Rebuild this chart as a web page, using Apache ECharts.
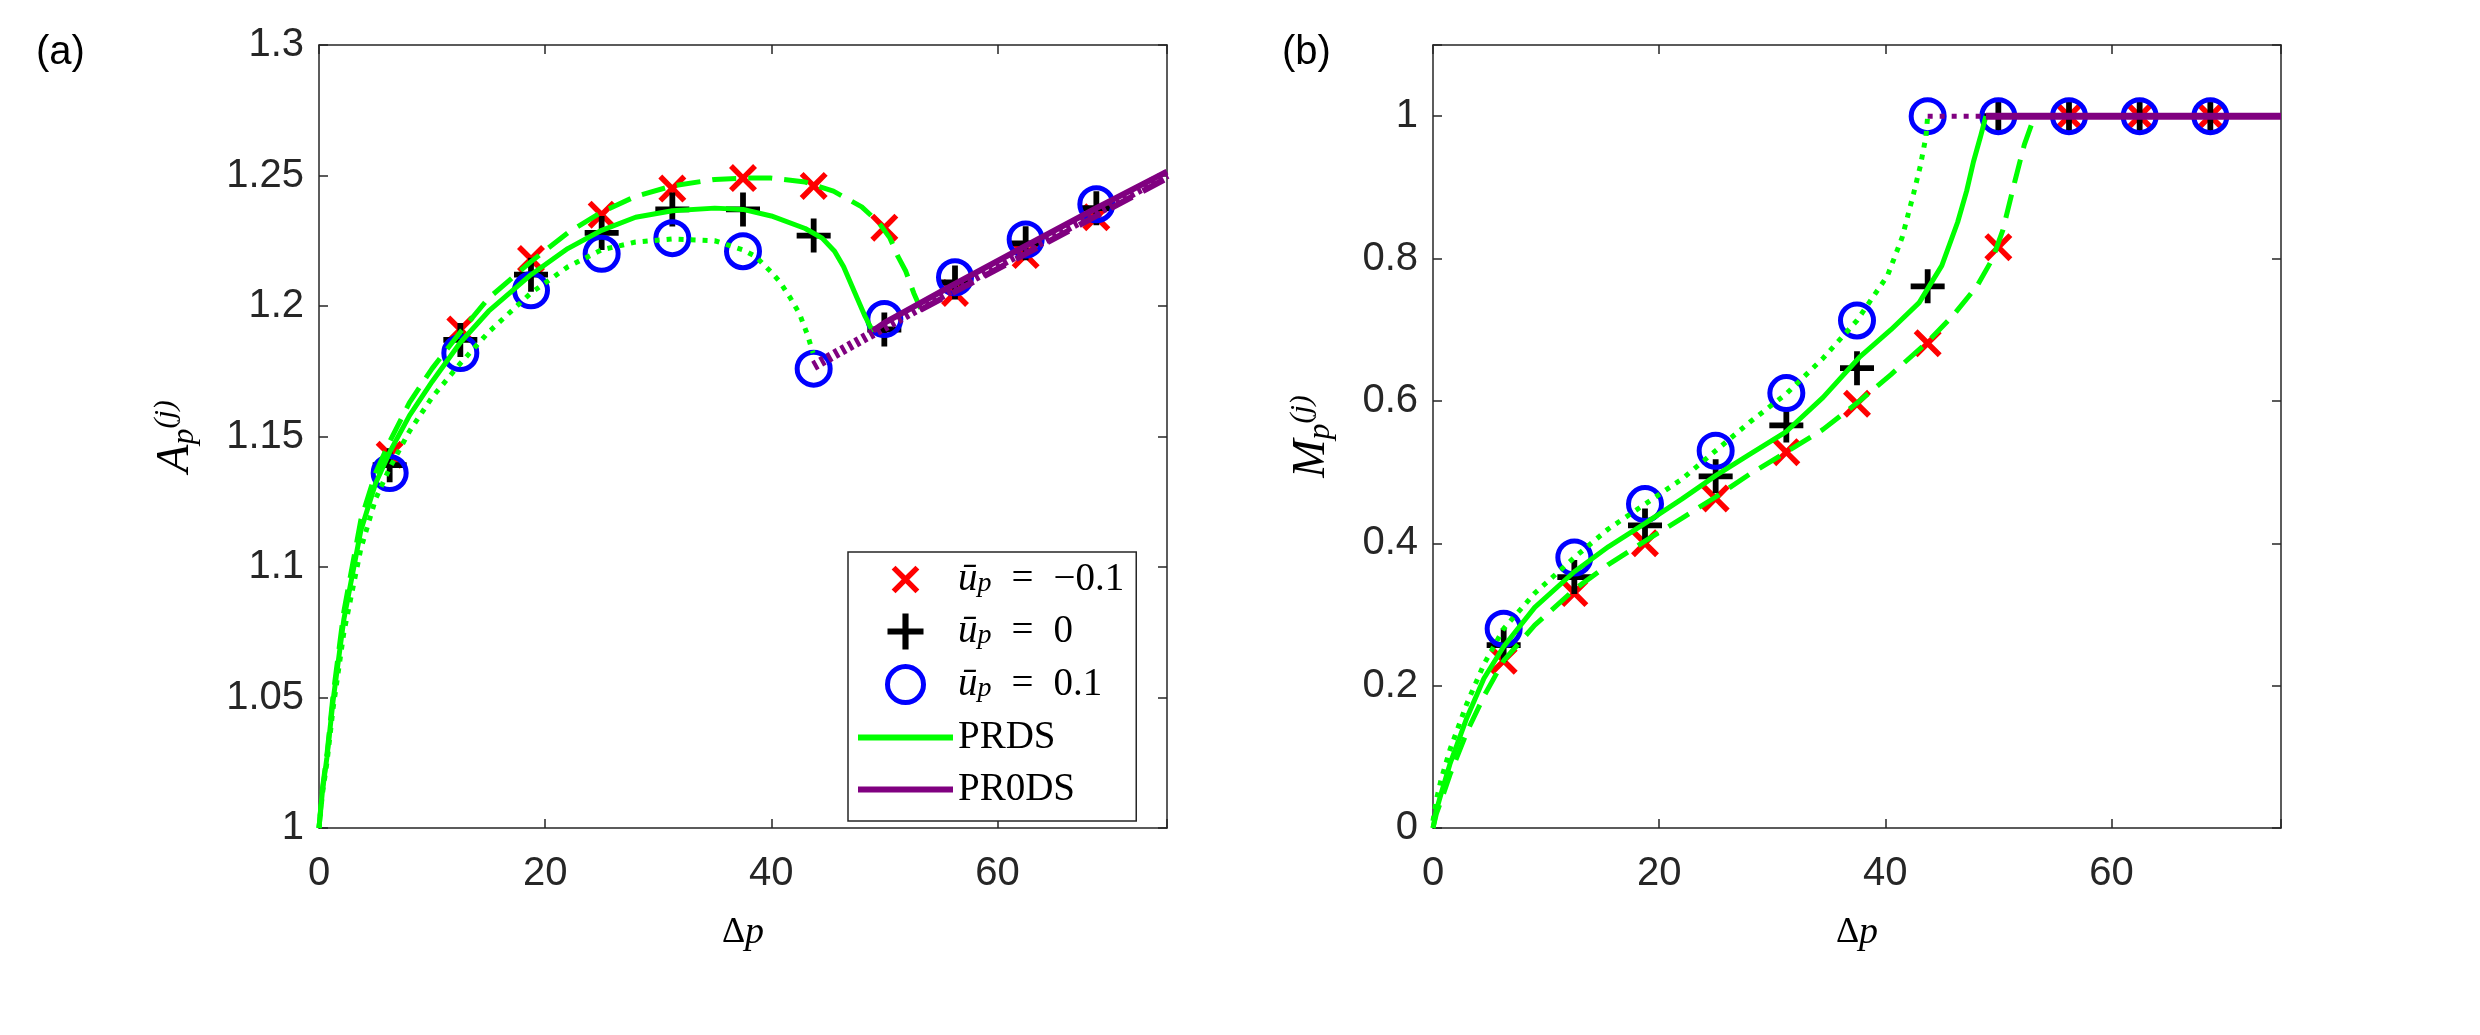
<!DOCTYPE html>
<html>
<head>
<meta charset="utf-8">
<script src="https://cdn.jsdelivr.net/npm/echarts@6.0.0/dist/echarts.min.js"></script>
<style>
  html, body { margin: 0; padding: 0; background: #fff; }
  #chart { width: 2480px; height: 1035px; }
</style>
</head>
<body>
<div id="chart"></div>
<script>
// marker positions (Delta p) shared by both panels
const dp = [6.25, 12.5, 18.75, 25, 31.25, 37.5, 43.75, 50, 56.25, 62.5, 68.75];

// panel (a): A_p markers
const aMinus = [1.143, 1.191, 1.218, 1.235, 1.245, 1.249, 1.246, 1.230, 1.205, 1.2195, 1.234];
const aZero  = [1.139, 1.187, 1.212, 1.228, 1.237, 1.237, 1.227, 1.191, 1.209, 1.224, 1.2375];
const aPlus  = [1.136, 1.182, 1.206, 1.220, 1.226, 1.221, 1.176, 1.195, 1.211, 1.2255, 1.239];

// panel (a): curves [dp, A]
const aPrdsZero = [[0, 1.0], [0.3, 1.014], [0.7, 1.027], [1.25, 1.049], [2.2, 1.08], [3.7, 1.114],
  [5, 1.132], [6.25, 1.144], [8, 1.158], [10, 1.171], [12.5, 1.186], [15, 1.198], [18.75, 1.212],
  [22, 1.222], [25, 1.229], [28, 1.234], [31.25, 1.2365], [35, 1.2375], [37.5, 1.237], [40, 1.2345],
  [43, 1.2297], [44.5, 1.226], [45.6, 1.221], [46.4, 1.215], [47.4, 1.205], [48.3, 1.196], [49, 1.19]];
const aPrdsMinus = [[0, 1.0], [0.3, 1.015], [0.7, 1.028], [1.25, 1.051], [2.2, 1.083], [3.7, 1.118],
  [5, 1.136], [6.25, 1.148], [8, 1.163], [10, 1.176], [12.5, 1.19], [15, 1.203], [18.75, 1.217],
  [22, 1.228], [25, 1.236], [28, 1.242], [31.25, 1.246], [35, 1.2485], [37.5, 1.249], [40, 1.249],
  [43, 1.2475], [45.5, 1.244], [48, 1.238], [49.5, 1.232], [50.5, 1.226], [51.2, 1.219],
  [51.9, 1.2133], [52.6, 1.205], [53.2, 1.199]];
const aPrdsPlus = [[0, 1.0], [0.3, 1.013], [0.7, 1.025], [1.25, 1.046], [2.2, 1.075], [3.7, 1.107],
  [5, 1.126], [6.25, 1.138], [8, 1.152], [10, 1.165], [12.5, 1.178], [15, 1.19], [18.75, 1.205],
  [22, 1.215], [25, 1.2215], [28, 1.2245], [31.25, 1.2257], [35, 1.225], [37.5, 1.2215], [38.6, 1.219],
  [40, 1.213], [40.8, 1.209], [41.7, 1.203], [42.5, 1.197], [43.2, 1.189], [43.7, 1.182]];
const aPr0dsPlus  = [[43.75, 1.177], [50, 1.192], [56.25, 1.207], [62.5, 1.2215], [68.75, 1.236], [75, 1.2505]];
const aPr0dsZero  = [[49, 1.1905], [50, 1.1935], [56.25, 1.2085], [62.5, 1.223], [68.75, 1.2375], [75, 1.2515]];
const aPr0dsMinus = [[53.2, 1.1985], [56.25, 1.2055], [62.5, 1.22], [68.75, 1.2345], [75, 1.249]];

// panel (b): M_p markers
const bMinus = [0.235, 0.330, 0.400, 0.463, 0.528, 0.596, 0.681, 0.816, 1, 1, 1];
const bZero  = [0.257, 0.3525, 0.425, 0.494, 0.5655, 0.646, 0.761, 1, 1, 1, 1];
const bPlus  = [0.280, 0.380, 0.455, 0.530, 0.611, 0.713, 1, 1, 1, 1, 1];

// panel (b): curves [dp, M]
const bPrdsZero = [[0, 0], [0.3, 0.025], [0.75, 0.05], [1.5, 0.09], [3, 0.155], [4.5, 0.21], [6.25, 0.255],
  [9, 0.31], [12.5, 0.36], [15.5, 0.395], [18.75, 0.428], [22, 0.462], [25, 0.495], [28, 0.525],
  [31.25, 0.557], [34.5, 0.605], [37.7, 0.661], [40.5, 0.70], [43, 0.738], [45, 0.79], [46.4, 0.851],
  [47.2, 0.895], [47.8, 0.936], [48.4, 0.97], [48.9, 1.0]];
const bPrdsMinus = [[0, 0], [0.3, 0.02], [0.75, 0.04], [1.5, 0.075], [3, 0.135], [4.5, 0.185], [6.25, 0.235],
  [9, 0.285], [12.5, 0.335], [15.5, 0.37], [18.75, 0.403], [22, 0.435], [25, 0.465], [28, 0.497],
  [31.25, 0.528], [34.5, 0.56], [37.5, 0.597], [40.5, 0.637], [43.75, 0.683], [46, 0.72], [48.1, 0.761],
  [49.5, 0.8], [50.4, 0.84], [51.5, 0.911], [52.3, 0.96], [53.2, 1.0]];
const bPrdsPlus = [[0, 0.01], [0.3, 0.04], [0.75, 0.07], [1.5, 0.11], [3, 0.175], [4.5, 0.23], [6.25, 0.28],
  [9, 0.33], [12.5, 0.38], [15.5, 0.42], [18.75, 0.455], [22, 0.49], [25, 0.53], [28, 0.57],
  [31.25, 0.61], [34.5, 0.66], [37.5, 0.713], [40.2, 0.776], [41.5, 0.83], [42.5, 0.891], [43.1, 0.93],
  [43.6, 0.9715], [43.75, 1.0]];
const bPr0dsPlus  = [[43.75, 1], [50, 1]];
const bPr0dsZero  = [[48.9, 1], [75, 1]];
const bPr0dsMinus = [[53.2, 1], [75, 1]];

// ticks
const xTicks = [0, 20, 40, 60];
const aYTicks = [1, 1.05, 1.1, 1.15, 1.2, 1.25, 1.3];
const aYLabels = ['1', '1.05', '1.1', '1.15', '1.2', '1.25', '1.3'];
const bYTicks = [0, 0.2, 0.4, 0.6, 0.8, 1];
const bYLabels = ['0', '0.2', '0.4', '0.6', '0.8', '1'];

const GREEN = '#00FF00';
const PURPLE = '#800080';
const AXIS = '#262626';
const PLUS_PATH = 'path://M8.3,0H11.7V8.3H20V11.7H11.7V20H8.3V11.7H0V8.3H8.3Z';
const CROSS_PATH = 'path://M0,2.8L2.8,0L10,7.2L17.2,0L20,2.8L12.8,10L20,17.2L17.2,20L10,12.8L2.8,20L0,17.2L7.2,10Z';
// same cross with two tiny far-away dots so the legend icon comes out smaller
const CROSS_ICON = CROSS_PATH + 'M-3,-3h0.01v0.01h-0.01ZM23,23h0.01v0.01h-0.01Z';
const LINE_ICON = 'path://M0,0H95V6H0Z';

function pickLabel(ticks, labels) {
  return function (v) {
    for (let i = 0; i < ticks.length; i++) {
      if (Math.abs(v - ticks[i]) < 1e-6) return labels[i];
    }
    return '';
  };
}

const tickFont = { fontFamily: 'Liberation Sans', fontSize: 40, color: AXIS };
const axisLine = { show: true, onZero: false, lineStyle: { color: AXIS, width: 1.5 } };
const axisTick = { show: true, inside: true, length: 9, lineStyle: { color: AXIS, width: 1.5 } };

const nameRich = {
  a: { fontFamily: 'Liberation Serif', fontStyle: 'italic', fontSize: 46, lineHeight: 50, color: '#000' },
  s: { fontFamily: 'Liberation Serif', fontStyle: 'italic', fontSize: 32, lineHeight: 24, verticalAlign: 'bottom', color: '#000' },
  u: { fontFamily: 'Liberation Serif', fontStyle: 'italic', fontSize: 30, lineHeight: 22, verticalAlign: 'top', color: '#000' }
};
const xNameRich = {
  d: { fontFamily: 'Liberation Serif', fontSize: 36, color: '#000' },
  p: { fontFamily: 'Liberation Serif', fontStyle: 'italic', fontSize: 38, color: '#000' }
};

function xAxes(grid) {
  return [
    {
      type: 'value', gridIndex: grid, position: 'bottom', min: 0, max: 75, interval: 20,
      axisLine: axisLine, axisTick: axisTick, splitLine: { show: false },
      axisLabel: Object.assign({ margin: 26, formatter: pickLabel(xTicks, xTicks.map(String)) }, tickFont),
      name: '{d|Δ}{p|p}', nameLocation: 'middle', nameGap: 86,
      nameTextStyle: { rich: xNameRich }
    },
    {
      type: 'value', gridIndex: grid, position: 'top', min: 0, max: 75, interval: 20,
      axisLine: axisLine, axisTick: axisTick, splitLine: { show: false }, axisLabel: { show: false }
    }
  ];
}

function yAxes(grid, min, max, interval, ticks, labels, name, gap) {
  return [
    {
      type: 'value', gridIndex: grid, position: 'left', min: min, max: max, interval: interval,
      axisLine: axisLine, axisTick: axisTick, splitLine: { show: false },
      axisLabel: Object.assign({ margin: 15, formatter: pickLabel(ticks, labels) }, tickFont),
      name: name, nameLocation: 'middle', nameGap: gap, nameRotate: 90,
      nameTextStyle: { rich: nameRich }
    },
    {
      type: 'value', gridIndex: grid, position: 'right', min: min, max: max, interval: interval,
      axisLine: axisLine, axisTick: axisTick, splitLine: { show: false }, axisLabel: { show: false }
    }
  ];
}

function markers(grid, minus, zero, plus) {
  const xi = grid * 2, yi = grid * 2;
  return [
    {
      name: '-0.1', type: 'scatter', xAxisIndex: xi, yAxisIndex: yi, z: 2,
      symbol: CROSS_PATH, symbolSize: 28, itemStyle: { color: '#FF0000', opacity: 1 },
      data: dp.map((x, i) => [x, minus[i]])
    },
    {
      name: '0', type: 'scatter', xAxisIndex: xi, yAxisIndex: yi, z: 2,
      symbol: PLUS_PATH, symbolSize: 34, itemStyle: { color: '#000000', opacity: 1 },
      data: dp.map((x, i) => [x, zero[i]])
    },
    {
      name: '0.1', type: 'scatter', xAxisIndex: xi, yAxisIndex: yi, z: 2,
      symbol: 'circle', symbolSize: 33,
      itemStyle: { color: 'rgba(0,0,0,0)', borderColor: '#0000FF', borderWidth: 5, opacity: 1 },
      data: dp.map((x, i) => [x, plus[i]])
    }
  ];
}

function curve(grid, name, data, color, type, width, z) {
  return {
    name: name, type: 'line', xAxisIndex: grid * 2, yAxisIndex: grid * 2, z: z,
    symbol: 'none', showSymbol: false, smooth: false, clip: true,
    lineStyle: { color: color, width: width, type: type },
    itemStyle: { color: color },
    data: data
  };
}

const DASH = [24, 12];
const DOT = [5, 7];

const series = [].concat(
  markers(0, aMinus, aZero, aPlus),
  markers(1, bMinus, bZero, bPlus),
  [
    curve(0, 'PRDS', aPrdsZero, GREEN, 'solid', 5, 3),
    curve(0, 'PRDS', aPrdsMinus, GREEN, DASH, 5, 3),
    curve(0, 'PRDS', aPrdsPlus, GREEN, DOT, 5, 3),
    curve(1, 'PRDS', bPrdsZero, GREEN, 'solid', 5, 3),
    curve(1, 'PRDS', bPrdsMinus, GREEN, DASH, 5, 3),
    curve(1, 'PRDS', bPrdsPlus, GREEN, DOT, 5, 3),
    curve(0, 'PR0DS', aPr0dsZero, PURPLE, 'solid', 6, 4),
    curve(0, 'PR0DS', aPr0dsMinus, PURPLE, DASH, 6, 4),
    curve(0, 'PR0DS', aPr0dsPlus, PURPLE, [4, 4], 10, 4),
    curve(1, 'PR0DS', bPr0dsZero, PURPLE, 'solid', 7, 4),
    curve(1, 'PR0DS', bPr0dsMinus, PURPLE, DASH, 5, 4),
    curve(1, 'PR0DS', bPr0dsPlus, PURPLE, DOT, 5, 4)
  ]
);

const legendText = {
  '-0.1': '{u|ū}{s|p}{e|=}{t|−0.1}',
  '0': '{u|ū}{s|p}{e|=}{t|0}',
  '0.1': '{u|ū}{s|p}{e|=}{t|0.1}',
  'PRDS': '{t|PRDS}',
  'PR0DS': '{t|PR0DS}'
};
const serif = 'Liberation Serif';

const option = {
  animation: false,
  backgroundColor: '#fff',
  title: [
    { text: '(a)', left: 36, top: 33, padding: 0,
      textStyle: { fontFamily: 'Liberation Sans', fontSize: 40, fontWeight: 'normal', color: '#000' } },
    { text: '(b)', left: 1282, top: 33, padding: 0,
      textStyle: { fontFamily: 'Liberation Sans', fontSize: 40, fontWeight: 'normal', color: '#000' } }
  ],
  grid: [
    { left: 319, top: 45, width: 848, height: 783, containLabel: false },
    { left: 1433, top: 45, width: 848, height: 783, containLabel: false }
  ],
  xAxis: xAxes(0).concat(xAxes(1)),
  yAxis: [].concat(
    yAxes(0, 1, 1.3, 0.05, aYTicks, aYLabels, '{a|A}{s|p}{u|(j)}', 118),
    yAxes(1, 0, 1.1, 0.2, bYTicks, bYLabels, '{a|M}{s|p}{u|(j)}', 96)
  ),
  legend: {
    orient: 'vertical', left: 848, top: 552,
    itemWidth: 95, itemHeight: 36, itemGap: 13,
    padding: [8, 12, 12, 10],
    backgroundColor: '#fff', borderColor: AXIS, borderWidth: 1.5, borderRadius: 0,
    selectedMode: false,
    formatter: function (name) { return legendText[name]; },
    textStyle: {
      fontFamily: serif, fontSize: 39, color: '#000',
      rich: {
        u: { fontFamily: serif, fontStyle: 'italic', fontSize: 39, lineHeight: 36, color: '#000' },
        s: { fontFamily: serif, fontStyle: 'italic', fontSize: 28, lineHeight: 14, verticalAlign: 'bottom', color: '#000' },
        e: { fontFamily: serif, fontSize: 39, lineHeight: 36, padding: [0, 20, 0, 20], color: '#000' },
        t: { fontFamily: serif, fontSize: 39, lineHeight: 36, color: '#000' }
      }
    },
    data: [
      { name: '-0.1', icon: CROSS_ICON, itemStyle: { color: '#FF0000', borderWidth: 0, opacity: 1 } },
      { name: '0', icon: PLUS_PATH, itemStyle: { color: '#000000', borderWidth: 0, opacity: 1 } },
      { name: '0.1', icon: 'circle', itemStyle: { color: 'rgba(0,0,0,0)', borderColor: '#0000FF', borderWidth: 5, opacity: 1 } },
      { name: 'PRDS', icon: LINE_ICON, itemStyle: { color: GREEN, borderWidth: 0 } },
      { name: 'PR0DS', icon: LINE_ICON, itemStyle: { color: PURPLE, borderWidth: 0 } }
    ]
  },
  series: series
};

const chart = echarts.init(document.getElementById('chart'), null, { renderer: 'canvas' });
chart.setOption(option);
</script>
</body>
</html>
